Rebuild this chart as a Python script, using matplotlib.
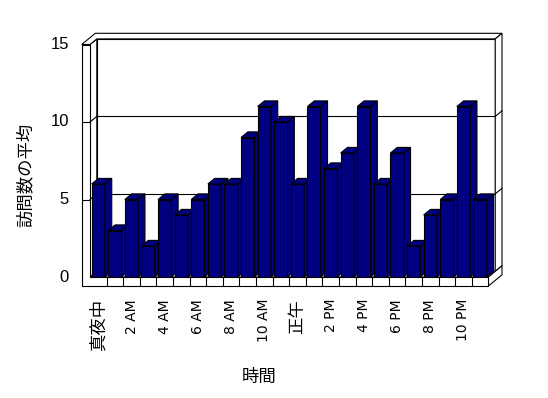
import matplotlib.pyplot as plt
from matplotlib.patches import Polygon
from matplotlib.transforms import offset_copy

plt.rcParams['font.family'] = ['Liberation Sans', 'Noto Sans CJK JP', 'DejaVu Sans']

# data: average visits per hour
hour_labels = ['真夜中', '1 AM', '2 AM', '3 AM', '4 AM', '5 AM', '6 AM', '7 AM',
               '8 AM', '9 AM', '10 AM', '11 AM', '正午', '1 PM', '2 PM', '3 PM',
               '4 PM', '5 PM', '6 PM', '7 PM', '8 PM', '9 PM', '10 PM', '11 PM']
visits = [6, 3, 5, 2, 5, 4, 5, 6, 6, 9, 11, 10, 6, 11, 7, 8, 11, 6, 8, 2, 4, 5, 11, 5]
yticks = [0, 5, 10, 15]
x_title = '時間'
y_title = '訪問数の平均'

W, H = 548, 398
fig = plt.figure(figsize=(W / 100, H / 100), dpi=100)
# front plane of the fake 3d box
ax = fig.add_axes([90 / W, (H - 277) / H, 398.4 / W, 232.5 / H])
n = len(visits)
ymax = yticks[-1]
ax.set_xlim(-0.5, n - 0.5)
ax.set_ylim(0, ymax)
ax.axis('off')

sx = 398.4 / n        # px per category
sy = 232.5 / ymax     # px per unit
ddx, ddy = 6.8 / sx, 5.6 / sy   # one step of depth
xlo, xli, xr = -0.5 - 8.3 / sx, -0.5, n - 0.5
yb = -9 / sy
lw = 0.8
navy = '#000080'


def poly(pts, fc='white', z=1):
    ax.add_patch(Polygon(pts, closed=True, fc=fc, ec='black', lw=lw,
                         clip_on=False, zorder=z, joinstyle='miter'))


def line(xs, ys, z=1.5):
    ax.plot(xs, ys, color='black', lw=lw, clip_on=False, zorder=z)


# back wall inner face
poly([(xli + ddx, ddy), (xr + ddx, ddy), (xr + ddx, ymax + ddy), (xli + ddx, ymax + ddy)])
# left wall inner face
poly([(xli, 0), (xli + ddx, ddy), (xli + ddx, ymax + ddy), (xli, ymax)])
# top of left wall + back wall
poly([(xlo, ymax), (xlo + 2 * ddx, ymax + 2 * ddy), (xr + 2 * ddx, ymax + 2 * ddy),
      (xr + ddx, ymax + ddy), (xli + ddx, ymax + ddy), (xli, ymax)])
# right side of back wall
poly([(xr + ddx, ddy), (xr + 2 * ddx, 2 * ddy), (xr + 2 * ddx, ymax + 2 * ddy), (xr + ddx, ymax + ddy)])
# floor top and right side
poly([(xli, 0), (xr, 0), (xr + ddx, ddy), (xli + ddx, ddy)])
poly([(xr, yb), (xr + 2 * ddx, yb + 2 * ddy), (xr + 2 * ddx, 2 * ddy), (xr, 0)])
# left wall front + floor front
poly([(xlo, yb), (xr, yb), (xr, 0), (xli, 0), (xli, ymax), (xlo, ymax)])

# gridlines
for v in yticks[1:-1]:
    line([xli + ddx, xr + ddx], [v + ddy, v + ddy])
    line([xli, xli + ddx], [v, v + ddy])
    line([xr + ddx, xr + 2 * ddx], [v + ddy, v + 2 * ddy])
    line([xlo, xli], [v, v])

# category separators on floor front
for i in range(n - 1):
    line([i + 0.5, i + 0.5], [yb, 0])

# bars
bars = ax.bar(range(n), visits, width=0.8, color=navy, edgecolor='black', lw=lw)
for i, (b, v) in enumerate(zip(bars, visits)):
    z = 3 + i * 0.01
    b.set_zorder(z)
    x0, x1 = i - 0.4, i + 0.4
    poly([(x0, v), (x1, v), (x1 + ddx, v + ddy), (x0 + ddx, v + ddy)], navy, z)
    poly([(x1, 0), (x1 + ddx, ddy), (x1 + ddx, v + ddy), (x1, v)], navy, z)

# tick labels
ytr = offset_copy(ax.transData, fig=fig, x=-12.7, y=0, units='dots')
for v in yticks:
    ax.text(xlo, v, str(v), ha='right', va='center', fontsize=12, transform=ytr)

xtr = offset_copy(ax.transData, fig=fig, x=0, y=-13, units='dots')
for i in range(0, n, 2):
    lab = hour_labels[i]
    if lab.isascii():
        ax.text(i, yb, lab, rotation=90, ha='center', va='top', fontsize=10,
                family='DejaVu Sans', transform=xtr)
    else:
        ax.text(i, yb, lab, rotation=90, ha='center', va='top', fontsize=12.5,
                transform=xtr)

fig.text(259 / W, 1 - 377 / H, x_title, ha='center', va='center', fontsize=12.5)
fig.text(25 / W, 1 - 175 / H, y_title, ha='center', va='center', rotation=90, fontsize=12.5)

fig.savefig('out.png', dpi=100)
